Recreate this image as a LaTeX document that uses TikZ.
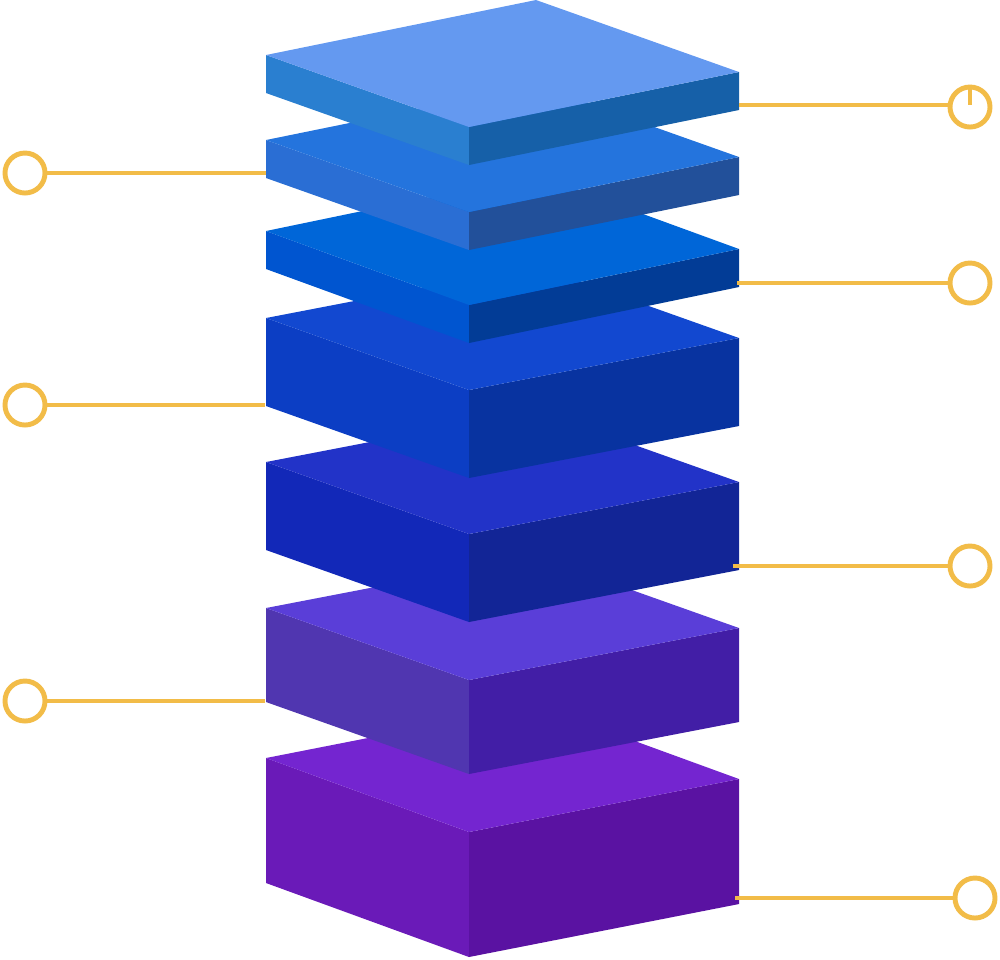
\documentclass[tikz,border=0pt]{standalone}
\begin{document}
\begin{tikzpicture}[x=0.01cm,y=-0.01cm,
  ring/.style={circle,draw=gold,line width=1.4pt,minimum size=0.4cm,inner sep=0pt,fill=white},
  lead/.style={draw=gold,line width=1.2pt}]
\definecolor{gold}{HTML}{F2BC48}
\useasboundingbox (0,0) rectangle (1000,959);
% slab macro: #1 yl, #2 yf, #3 yr, #4 thickness, #5 top, #6 left, #7 right
\def\slab#1#2#3#4#5#6#7{%
  \fill[#6] (266,#1) -- (469,#2) -- (469,#2+#4) -- (266,#1+#4) -- cycle;
  \fill[#7] (469,#2) -- (739,#3) -- (739,#3+#4) -- (469,#2+#4) -- cycle;
  \fill[#5] (266,#1) -- (469,#2) -- (739,#3) -- (536,#1+#3-#2) -- cycle;}
\definecolor{t7}{HTML}{7425D0}\definecolor{l7}{HTML}{6A1AB8}\definecolor{r7}{HTML}{5A12A2}
\definecolor{t6}{HTML}{5A3ED8}\definecolor{l6}{HTML}{5036B0}\definecolor{r6}{HTML}{421EA6}
\definecolor{t5}{HTML}{2233C8}\definecolor{l5}{HTML}{1228B8}\definecolor{r5}{HTML}{122596}
\definecolor{t4}{HTML}{1248D0}\definecolor{l4}{HTML}{0C3EC4}\definecolor{r4}{HTML}{0833A0}
\definecolor{t3}{HTML}{0066D8}\definecolor{l3}{HTML}{0055D0}\definecolor{r3}{HTML}{023C96}
\definecolor{t2}{HTML}{2474DD}\definecolor{l2}{HTML}{2A6ED4}\definecolor{r2}{HTML}{22509A}
\definecolor{t1}{HTML}{6499F0}\definecolor{l1}{HTML}{2A7FD0}\definecolor{r1}{HTML}{1660A8}
\slab{758}{832}{779}{125}{t7}{l7}{r7}
\slab{608}{680}{628}{94}{t6}{l6}{r6}
\slab{462}{534}{482}{88}{t5}{l5}{r5}
\slab{318}{390}{338}{88}{t4}{l4}{r4}
\slab{231}{305}{249}{38}{t3}{l3}{r3}
\slab{140}{212}{157}{38}{t2}{l2}{r2}
\slab{55}{127}{72}{38}{t1}{l1}{r1}
% connectors
\node[ring] (c1) at (970,107) {}; \coordinate (e1) at (739,105);
\node[ring] (c2) at (970,283) {}; \coordinate (e2) at (737,283);
\node[ring] (c3) at (970,566) {}; \coordinate (e3) at (733,566);
\node[ring] (c4) at (975,898) {}; \coordinate (e4) at (735,898);
\node[ring] (c5) at (25,173) {}; \coordinate (e5) at (266,173);
\node[ring] (c6) at (25,405) {}; \coordinate (e6) at (265,405);
\node[ring] (c7) at (25,701) {}; \coordinate (e7) at (265,701);
\foreach \i in {1,...,7} {\draw[lead] (c\i) -- (e\i -| c\i.center) (e\i -| c\i.center) ++(0,0) ;}
\draw[lead] (c1.west) -- (e1 -| c1.west) -- (e1);
\draw[lead] (c2.west) -- (e2);
\draw[lead] (c3.west) -- (e3);
\draw[lead] (c4.west) -- (e4);
\draw[lead] (c5.east) -- (e5);
\draw[lead] (c6.east) -- (e6);
\draw[lead] (c7.east) -- (e7);
\end{tikzpicture}
\end{document}
